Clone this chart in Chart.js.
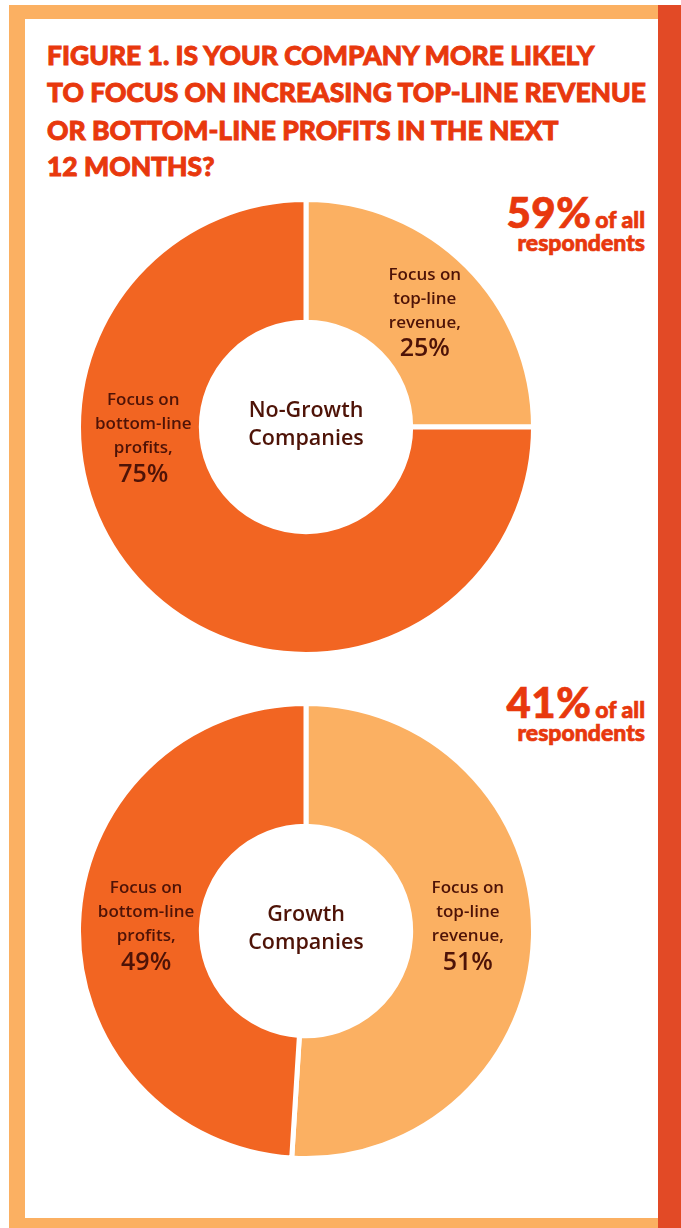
<!DOCTYPE html>
<html>
<head>
<meta charset="utf-8">
<script src="https://cdn.jsdelivr.net/npm/chart.js@4.4.1/dist/chart.umd.min.js"></script>
<style>
  html, body { margin: 0; padding: 0; background: #fff; }
  #page { position: relative; width: 681px; height: 1228px; overflow: hidden; background: #fff; }
  #frame { position: absolute; left: 9px; top: 5px; width: 649px; height: 1223px; background: #FBB062; }
  #inner { position: absolute; left: 25px; top: 19px; width: 633px; height: 1199px; background: #fff; }
  #strip { position: absolute; left: 658px; top: 5px; width: 23px; height: 1223px; background: #E24A26; }
  .title { position: absolute; left: 47px; font-family: Lato, "DejaVu Sans", sans-serif; font-weight: 900;
           font-size: 26px; line-height: 30px; color: #E8380D; white-space: nowrap; transform-origin: 0 50%;
           -webkit-text-stroke: 0.9px #E8380D; }
  .share { position: absolute; right: 36px; text-align: right; font-family: Lato, sans-serif; font-weight: 900;
           color: #E8380D; white-space: nowrap; -webkit-text-stroke: 0.7px #E8380D; }
  .share .big { font-size: 42px; letter-spacing: 0.5px; }
  .share .small { font-size: 23px; }
  canvas { position: absolute; }
</style>
</head>
<body>
<div id="page">
  <div id="frame"></div>
  <div id="inner"></div>
  <div id="strip"></div>

  <div class="title" style="top:40px">FIGURE 1. IS YOUR COMPANY MORE LIKELY</div>
  <div class="title" style="top:77px" id="widest">TO FOCUS ON INCREASING TOP-LINE REVENUE</div>
  <div class="title" style="top:115px">OR BOTTOM-LINE PROFITS IN THE NEXT</div>
  <div class="title" style="top:151px">12 MONTHS?</div>

  <div class="share" style="top:192px; line-height:40px"><span class="big">59%</span> <span class="small">of all</span></div>
  <div class="share small" style="top:229px; font-size:23px; line-height:26px">respondents</div>
  <div class="share" style="top:682px; line-height:40px"><span class="big">41%</span> <span class="small">of all</span></div>
  <div class="share small" style="top:719px; font-size:23px; line-height:26px">respondents</div>

  <canvas id="noGrowthChart" width="460" height="460" style="left:76px; top:197px; width:460px; height:460px"></canvas>
  <canvas id="growthChart" width="460" height="460" style="left:76px; top:701px; width:460px; height:460px"></canvas>
</div>

<script>
// answer categories (one line per row of the slice caption)
const categories = [
  ["Focus on", "top-line", "revenue,"],
  ["Focus on", "bottom-line", "profits,"]
];
const noGrowthValues = [25, 75];
const growthValues = [51, 49];
const noGrowthCaption = ["No-Growth", "Companies"];
const growthCaption = ["Growth", "Companies"];

const sliceColors = ["#FBB062", "#F26522"];
const textColor = "#4E1307";

// stretch the title so its widest line spans the text column
(function fitTitle() {
  const widest = document.getElementById("widest");
  const k = 599 / widest.getBoundingClientRect().width;
  document.querySelectorAll(".title").forEach(el => { el.style.transform = "scaleX(" + k + ")"; });
})();

// writes the multi-line caption inside each slice and the company group in the hole
const sliceLabels = {
  id: "sliceLabels",
  afterDatasetsDraw(chart, args, opts) {
    const ctx = chart.ctx;
    const meta = chart.getDatasetMeta(0);
    const values = chart.data.datasets[0].data;
    ctx.save();
    ctx.fillStyle = textColor;
    ctx.textAlign = "center";
    ctx.textBaseline = "middle";
    meta.data.forEach((arc, i) => {
      const spot = opts.spots[i];
      const a = (spot.angle - 90) * Math.PI / 180;
      const x = arc.x + Math.cos(a) * spot.r;
      const y = arc.y + Math.sin(a) * spot.r;
      const lines = chart.data.labels[i];
      ctx.font = "600 17px 'Open Sans', Lato, sans-serif";
      lines.forEach((ln, j) => ctx.fillText(ln, x, y - 36 + j * 24));
      ctx.font = "600 25px 'Open Sans', Lato, sans-serif";
      ctx.fillText(values[i] + "%", x, y + 38);
    });
    const c = meta.data[0];
    ctx.font = "600 21.5px 'Open Sans', Lato, sans-serif";
    ctx.fillText(opts.caption[0], c.x, c.y - 16);
    ctx.fillText(opts.caption[1], c.x, c.y + 12);
    ctx.restore();
  }
};

function renderDonut(canvasId, values, caption, spots) {
  const el = document.getElementById(canvasId);
  return new Chart(el.getContext("2d"), {
    type: "doughnut",
    data: {
      labels: categories,
      datasets: [{
        data: values,
        backgroundColor: sliceColors,
        borderColor: "#ffffff",
        borderWidth: 5,
        hoverOffset: 0
      }]
    },
    options: {
      responsive: false,
      animation: false,
      cutout: "46%",
      layout: { padding: 0 },
      plugins: {
        legend: { display: false },
        tooltip: { enabled: false },
        sliceLabels: { caption: caption, spots: spots }
      }
    },
    plugins: [sliceLabels]
  });
}

renderDonut("noGrowthChart", noGrowthValues, noGrowthCaption,
  [{ angle: 45.7, r: 166 }, { angle: 266.7, r: 163 }]);
renderDonut("growthChart", growthValues, growthCaption,
  [{ angle: 87.7, r: 162 }, { angle: 272.3, r: 160 }]);
</script>
</body>
</html>
